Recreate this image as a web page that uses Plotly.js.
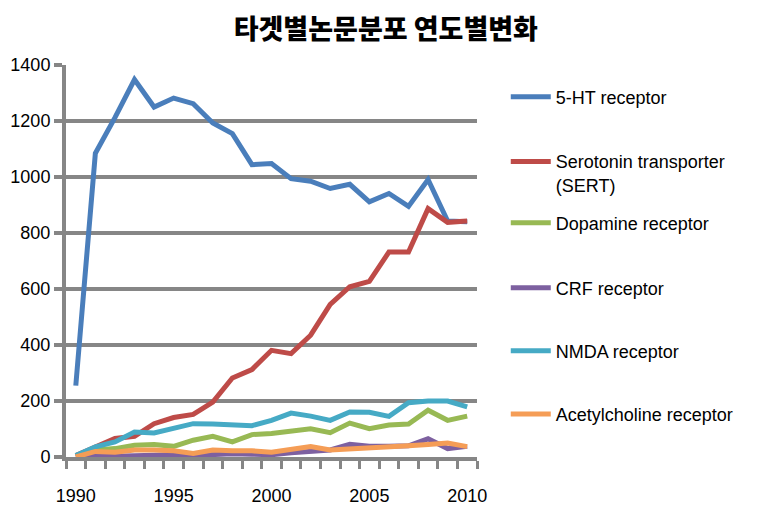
<!DOCTYPE html>
<html>
<head>
<meta charset="utf-8">
<script src="https://cdn.plot.ly/plotly-3.0.1.min.js"></script>
<style>html,body{margin:0;padding:0;background:#fff;}#chart{width:761px;height:515px;}</style>
</head>
<body>
<div id="chart"></div>
<script>
var years = [1990,1991,1992,1993,1994,1995,1996,1997,1998,1999,2000,2001,2002,2003,2004,2005,2006,2007,2008,2009,2010];
var ht5 = [255,1085,1212,1348,1250,1282,1262,1193,1155,1044,1048,994,985,959,974,911,941,895,991,843,840];
var sert = [5,35,66,74,119,141,152,196,282,312,381,369,435,545,608,627,732,732,887,838,843];
var dopamine = [5,25,30,42,45,38,60,74,54,80,84,92,101,87,121,101,114,118,167,131,146];
var crf = [0,5,3,5,7,8,5,10,12,10,8,15,20,25,45,38,38,40,65,30,38];
var nmda = [5,36,54,89,86,104,119,118,113,112,131,157,146,131,161,160,145,194,200,200,179];
var ach = [0,20,17,25,25,22,13,25,22,22,17,28,37,25,28,30,35,40,45,50,37];
var names = ["5-HT receptor","Serotonin transporter<br>(SERT)","Dopamine receptor","CRF receptor","NMDA receptor","Acetylcholine receptor"];
var colors = ["#4A7EBB","#BE4B48","#98B954","#7D60A0","#46AAC5","#F59D56"];
var seriesList = [ht5, sert, dopamine, crf, nmda, ach];
var legendIds = ["legend","legend2","legend3","legend4","legend5","legend6"];
var legendY = [0.918, 0.724, 0.597, 0.431, 0.270, 0.109];

var traces = seriesList.map(function(s, i){
  return {x: years, y: s, type: 'scatter', mode: 'lines', name: names[i],
    line: {color: colors[i], width: 5}, legend: legendIds[i]};
});

var tickFont = {family: '"Liberation Sans", Arial, sans-serif', size: 18, color: '#000'};
var layout = {
  width: 761, height: 515,
  margin: {l: 66, r: 284, t: 65, b: 58},
  paper_bgcolor: '#fff', plot_bgcolor: '#fff',
  showlegend: true,
  title: {text: '타겟별논문분포 연도별변화', x: 0.507, xanchor: 'center', y: 0.942, yanchor: 'middle',
    font: {family: '"Noto Sans CJK KR", sans-serif', size: 27, color: '#000', weight: 900}},
  xaxis: {
    range: [1989.5, 2010.5], tickmode: 'array', tickvals: [1990,1995,2000,2005,2010],
    ticks: 'outside', ticklen: 8, tickcolor: 'rgba(0,0,0,0)', ticklabelstandoff: 11,
    showgrid: false, zeroline: false, showline: true, linecolor: '#868686', linewidth: 4,
    tickfont: tickFont,
    minor: {tickmode: 'linear', tick0: 1989.5, dtick: 1, ticks: 'outside', ticklen: 8, tickwidth: 3, tickcolor: '#868686', showgrid: false}
  },
  yaxis: {
    range: [0, 1400], dtick: 200, tick0: 0,
    showgrid: true, gridcolor: '#868686', gridwidth: 4,
    zeroline: false, showline: true, linecolor: '#868686', linewidth: 4,
    ticks: 'outside', ticklen: 8, tickwidth: 4, tickcolor: '#868686',
    tickfont: tickFont
  }
};
var legendFont = {family: '"Liberation Sans", Arial, sans-serif', size: 18, color: '#000'};
legendIds.forEach(function(id, i){
  layout[id] = {x: 1.07, xanchor: 'left', y: legendY[i], yanchor: 'middle',
    bgcolor: 'rgba(0,0,0,0)', borderwidth: 0, font: legendFont, valign: 'top', itemwidth: 40};
});
Plotly.newPlot('chart', traces, layout, {displayModeBar: false, staticPlot: true});
</script>
</body>
</html>
